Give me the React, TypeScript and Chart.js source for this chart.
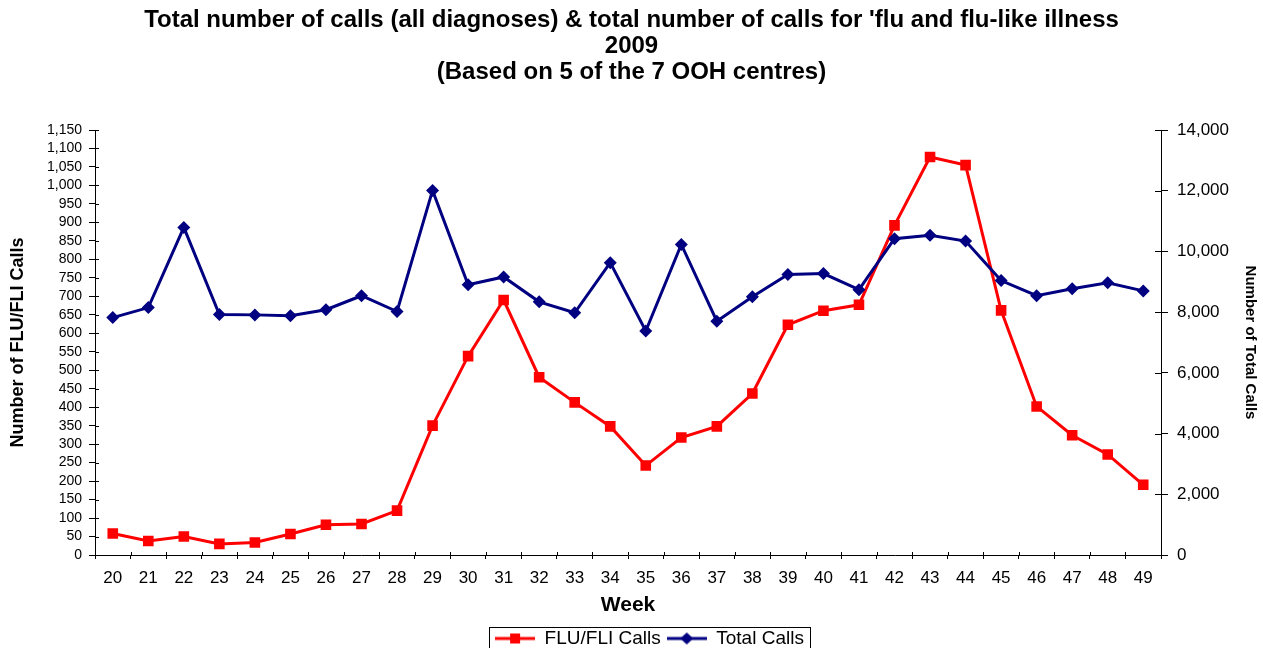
import React, { useEffect, useRef } from 'react';
import { Chart, registerables } from 'chart.js';

Chart.register(...registerables);

const weeks = ['20', '21', '22', '23', '24', '25', '26', '27', '28', '29', '30', '31', '32', '33', '34', '35', '36', '37', '38', '39', '40', '41', '42', '43', '44', '45', '46', '47', '48', '49'];
const fluCalls = [58, 38, 50, 30, 34, 57, 82, 84, 120, 350, 538, 690, 481, 413, 348, 242, 318, 348, 437, 623, 661, 677, 892, 1077, 1055, 662, 402, 324, 272, 190];
const totalCalls = [7820, 8150, 10790, 7920, 7910, 7880, 8080, 8540, 8020, 12010, 8900, 9160, 8340, 7980, 9630, 7380, 10230, 7700, 8510, 9240, 9270, 8740, 10420, 10530, 10340, 9040, 8540, 8770, 8970, 8700];
const titleLines = [
  "Total number of calls (all diagnoses) & total number of calls for 'flu and flu-like illness",
  '2009',
  '(Based on 5 of the 7 OOH centres)',
];
const leftTicksMax = 1150;
const leftStep = 50;
const rightTicksMax = 14000;
const rightStep = 2000;

const FONT = '"Liberation Sans", Arial, Helvetica, sans-serif';
const RED = '#FF0000';
const NAVY = '#000080';
const LEGEND_SHIFT = 18;

function makeLegendImage(color: string, style: string) {
  const c = document.createElement('canvas');
  c.width = 40;
  c.height = 14;
  const ctx = c.getContext('2d')!;
  ctx.strokeStyle = color;
  ctx.lineWidth = 3;
  ctx.beginPath();
  ctx.moveTo(0, 7);
  ctx.lineTo(40, 7);
  ctx.stroke();
  ctx.fillStyle = color;
  if (style === 'rect') {
    ctx.fillRect(15, 2, 10, 10);
  } else {
    ctx.beginPath();
    ctx.moveTo(20, 1);
    ctx.lineTo(26.5, 7);
    ctx.lineTo(20, 13);
    ctx.lineTo(13.5, 7);
    ctx.closePath();
    ctx.fill();
  }
  return c;
}

const innerTicksPlugin = {
  id: 'innerTicks',
  afterDraw(chart: any) {
    const { ctx, chartArea } = chart;
    const y = chart.scales.y;
    const y2 = chart.scales.y2;
    const x = chart.scales.x;
    ctx.save();
    ctx.strokeStyle = '#000';
    ctx.lineWidth = 1;
    ctx.beginPath();
    y.ticks.forEach((_t: any, i: number) => {
      const py = Math.round(y.getPixelForTick(i)) + 0.5;
      ctx.moveTo(chartArea.left, py);
      ctx.lineTo(chartArea.left + 4, py);
    });
    y2.ticks.forEach((_t: any, i: number) => {
      const py = Math.round(y2.getPixelForTick(i)) + 0.5;
      ctx.moveTo(chartArea.right - 6, py);
      ctx.lineTo(chartArea.right, py);
    });
    const n = weeks.length;
    for (let i = 0; i <= n; i++) {
      const px = Math.round(x.left + (i * x.width) / n) + 0.5;
      ctx.moveTo(px, chartArea.bottom);
      ctx.lineTo(px, chartArea.bottom - 3);
    }
    ctx.stroke();
    ctx.restore();
  },
};

const legendShiftPlugin = {
  id: 'legendShift',
  afterLayout(chart: any) {
    if (chart.legend) {
      chart.legend.left += LEGEND_SHIFT;
      chart.legend.right += LEGEND_SHIFT;
    }
  },
};

const legendBorderPlugin = {
  id: 'legendBorder',
  afterDraw(chart: any) {
    const lg = chart.legend;
    if (!lg || !lg.legendHitBoxes || !lg.legendHitBoxes.length) return;
    const hb = lg.legendHitBoxes;
    const left = Math.min(...hb.map((h: any) => h.left)) - 6;
    const right = Math.max(...hb.map((h: any) => h.left + h.width)) + 6;
    const top = hb[0].top - 2.5;
    const bottom = hb[0].top + hb[0].height + 2.5;
    const { ctx } = chart;
    ctx.save();
    ctx.strokeStyle = '#000';
    ctx.lineWidth = 1;
    ctx.strokeRect(Math.round(left) + 0.5, Math.round(top) + 0.5, Math.round(right - left), Math.round(bottom - top));
    ctx.restore();
  },
};

export default function App() {
  const canvasRef = useRef<HTMLCanvasElement | null>(null);

  useEffect(() => {
    if (!canvasRef.current) return;
    const legendImages = [makeLegendImage(RED, 'rect'), makeLegendImage(NAVY, 'rectRot')];
    const fmt = (v: any) => Number(v).toLocaleString('en-US');
    const chart = new Chart(canvasRef.current, {
      type: 'line',
      data: {
        labels: weeks,
        datasets: [
          {
            label: 'FLU/FLI Calls',
            data: fluCalls,
            yAxisID: 'y',
            borderColor: RED,
            backgroundColor: RED,
            borderWidth: 3,
            pointStyle: 'rect',
            pointRadius: 7.5,
            pointBorderWidth: 0,
            pointBackgroundColor: RED,
            pointBorderColor: RED,
            tension: 0,
            order: 1,
          },
          {
            label: 'Total Calls',
            data: totalCalls,
            yAxisID: 'y2',
            borderColor: NAVY,
            backgroundColor: NAVY,
            borderWidth: 3,
            pointStyle: 'rectRot',
            pointRadius: 6.5,
            pointBorderWidth: 0,
            pointBackgroundColor: NAVY,
            pointBorderColor: NAVY,
            tension: 0,
            order: 0,
          },
        ],
      },
      options: {
        responsive: false,
        maintainAspectRatio: false,
        animation: false,
        events: [],
        layout: { padding: 0 },
        plugins: {
          title: {
            display: true,
            text: titleLines,
            color: '#000',
            font: { family: FONT, size: 24, weight: 'bold', lineHeight: 26 / 24 },
            padding: { top: 7, bottom: 45 },
          },
          legend: {
            position: 'bottom',
            labels: {
              color: '#000',
              font: { family: FONT, size: 19 },
              usePointStyle: true,
              pointStyleWidth: 40,
              padding: 6,
              sort: (a: any, b: any) => a.datasetIndex - b.datasetIndex,
              generateLabels: (ch: any) => {
                const items = (Chart.defaults.plugins.legend.labels as any).generateLabels(ch);
                return items.map((it: any) => ({ ...it, pointStyle: legendImages[it.datasetIndex] }));
              },
            },
          },
          tooltip: { enabled: false },
        },
        scales: {
          x: {
            type: 'category',
            offset: true,
            grid: { display: true, drawOnChartArea: false, offset: true, tickLength: 4, color: '#000' },
            border: { display: true, color: '#000', width: 1 },
            ticks: { color: '#000', font: { family: FONT, size: 17 }, padding: 9, maxRotation: 0, autoSkip: false },
            title: {
              display: true,
              text: 'Week',
              color: '#000',
              font: { family: FONT, size: 21, weight: 'bold' },
              padding: { top: 0, bottom: 5 },
            },
            afterFit: (s: any) => {
              s.height = 68;
            },
          },
          y: {
            type: 'linear',
            position: 'left',
            min: 0,
            max: leftTicksMax,
            grid: { display: true, drawOnChartArea: false, tickLength: 6, color: '#000' },
            border: { display: true, color: '#000', width: 1 },
            ticks: { stepSize: leftStep, autoSkip: false, color: '#000', font: { family: FONT, size: 14 }, padding: 7, callback: fmt },
            title: {
              display: true,
              text: 'Number of FLU/FLI Calls',
              color: '#000',
              font: { family: FONT, size: 18, weight: 'bold' },
              padding: { top: 7, bottom: 0 },
            },
            afterFit: (s: any) => {
              s.width = 95;
            },
          },
          y2: {
            type: 'linear',
            position: 'right',
            min: 0,
            max: rightTicksMax,
            grid: { display: true, drawOnChartArea: false, tickLength: 7, color: '#000' },
            border: { display: true, color: '#000', width: 1 },
            ticks: { stepSize: rightStep, autoSkip: false, color: '#000', font: { family: FONT, size: 17 }, padding: 9, callback: fmt },
            title: {
              display: true,
              text: 'Number of Total Calls',
              color: '#000',
              font: { family: FONT, size: 15, weight: 'bold' },
              padding: { top: 4, bottom: 0 },
            },
            afterFit: (s: any) => {
              s.width = 102;
            },
          },
        },
      } as any,
      plugins: [innerTicksPlugin, legendShiftPlugin, legendBorderPlugin],
    });
    return () => chart.destroy();
  }, []);

  return (
    <div style={{ position: 'fixed', left: 0, top: 0, width: 1263, height: 648, overflow: 'hidden', background: '#fff' }}>
      <canvas ref={canvasRef} width={1263} height={658} style={{ display: 'block' }} />
    </div>
  );
}
